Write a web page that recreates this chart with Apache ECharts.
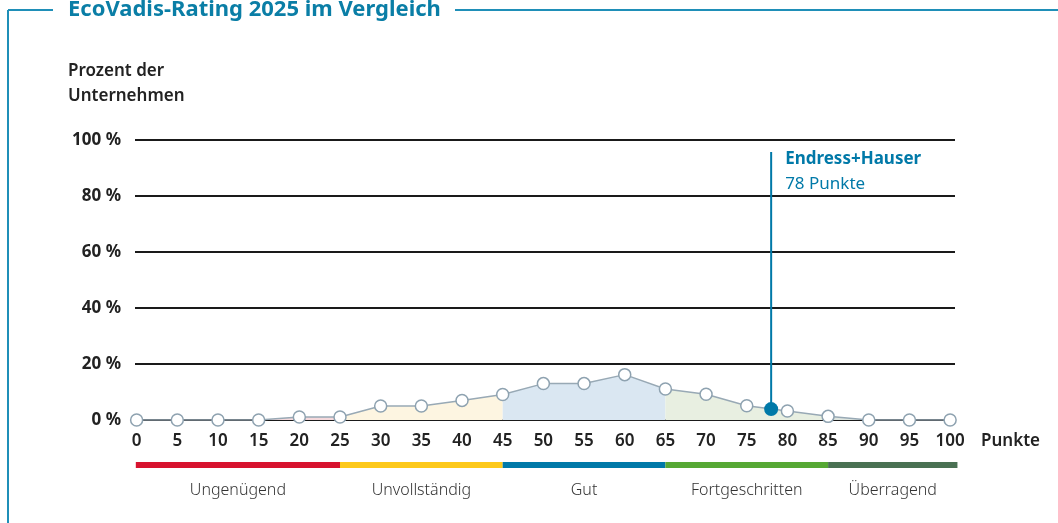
<!DOCTYPE html>
<html>
<head>
<meta charset="UTF-8">
<title>EcoVadis-Rating 2025 im Vergleich</title>
<script src="https://cdn.jsdelivr.net/npm/echarts@6/dist/echarts.min.js"></script>
<style>
  html, body { margin: 0; padding: 0; background: #fff; }
  #chart { width: 1058px; height: 523px; }
</style>
</head>
<body>
<div id="chart"></div>
<script>
// Punkte (x) und Anteil der Unternehmen in % (y)
var points = [0, 5, 10, 15, 20, 25, 30, 35, 40, 45, 50, 55, 60, 65, 70, 75, 80, 85, 90, 95, 100];
var share = [0, 0, 0, 0, 1.1, 1.1, 5, 5, 7, 9.1, 13, 13, 16.2, 11.1, 9.2, 5.1, 3.2, 1.3, 0, 0, 0];
var xTicks = [0, 5, 10, 15, 20, 25, 30, 35, 40, 45, 50, 55, 60, 65, 70, 75, 80, 85, 90, 95, 100];

// Bewertungsstufen
var bandNames = ['Ungenügend', 'Unvollständig', 'Gut', 'Fortgeschritten', 'Überragend'];
var bandStart = [-0.1, 25, 45, 65, 85];
var bandEnd = [25, 45, 65, 85, 100.9];
var bandColors = ['#d7132f', '#fdc91b', '#0079a8', '#56a834', '#4a7153'];
var bandFill = ['#f5d9dc', '#fdf5e1', '#dae7f2', '#e8efe1', '#dfe6e0'];

// Endress+Hauser
var companyName = 'Endress+Hauser';
var companyScore = 78;
var companyShare = 3.9;
var markerTop = 95.7;

var FONT = '"Noto Sans", sans-serif';
var BLUE = '#0079a8';

var myChart = echarts.init(document.getElementById('chart'));

// Flächen je Bewertungsstufe
var areaSeries = bandNames.map(function (name, k) {
  var d = [];
  points.forEach(function (p, i) {
    if (p >= bandStart[k] && p <= bandEnd[k]) d.push([p, share[i]]);
  });
  return {
    name: name,
    type: 'line',
    data: d,
    showSymbol: false,
    silent: true,
    lineStyle: { width: 0 },
    areaStyle: { color: bandFill[k], opacity: 1 },
    z: 1
  };
});

var option = {
  animation: false,
  title: [{
    text: 'EcoVadis-Rating 2025 im Vergleich',
    left: 63,
    top: -6,
    textStyle: { color: '#0a7ea6', fontSize: 22, fontWeight: 'bold', fontFamily: FONT }
  }, {
    text: 'Prozent der\nUnternehmen',
    left: 63,
    top: 54,
    textStyle: { color: '#222', fontSize: 17, fontWeight: 600, lineHeight: 25, fontFamily: FONT }
  }],
  graphic: [
    { type: 'line', shape: { x1: 8, y1: 10, x2: 53, y2: 10 }, style: { stroke: '#1f8fb8', lineWidth: 2 } },
    { type: 'line', shape: { x1: 455, y1: 10, x2: 1058, y2: 10 }, style: { stroke: '#1f8fb8', lineWidth: 2 } },
    { type: 'line', shape: { x1: 8, y1: 10, x2: 8, y2: 523 }, style: { stroke: '#1f8fb8', lineWidth: 2 } }
  ],
  grid: [
    { left: 135, right: 103, top: 140, bottom: 103 },
    { left: 135, right: 103, top: 462, height: 6 }
  ],
  xAxis: [{
    type: 'value',
    gridIndex: 0,
    min: -0.2,
    max: 100.6,
    name: 'Punkte',
    nameLocation: 'end',
    nameGap: 26,
    nameTextStyle: { color: '#222', fontSize: 17, fontWeight: 600, fontFamily: FONT, verticalAlign: 'top', padding: [13, 0, 0, 0] },
    axisLine: { show: true, onZero: false, lineStyle: { color: '#1a1a1a', width: 2 } },
    axisTick: { show: false },
    splitLine: { show: false },
    axisLabel: {
      customValues: xTicks,
      margin: 13,
      color: '#222',
      fontSize: 17,
      fontWeight: 600,
      fontFamily: FONT
    }
  }, {
    type: 'value',
    gridIndex: 1,
    min: -0.2,
    max: 100.6,
    show: false
  }],
  yAxis: [{
    type: 'value',
    gridIndex: 0,
    min: 0,
    max: 100,
    interval: 20,
    axisLine: { show: false },
    axisTick: { show: false },
    splitLine: { lineStyle: { color: '#1a1a1a', width: 2 } },
    axisLabel: {
      formatter: '{value} %',
      margin: 14,
      color: '#222',
      fontSize: 17,
      fontWeight: 'bold',
      fontFamily: FONT
    }
  }, {
    type: 'value',
    gridIndex: 1,
    min: 0,
    max: 1,
    show: false
  }],
  series: areaSeries.concat([{
    name: 'Verteilung',
    type: 'line',
    data: points.map(function (p, i) { return [p, share[i]]; }),
    symbol: 'circle',
    symbolSize: 12,
    lineStyle: { color: '#98a9b5', width: 1.5 },
    itemStyle: { color: '#ffffff', borderColor: '#8ea2b0', borderWidth: 1.5 },
    z: 3
  }, {
    name: 'Markierung',
    type: 'line',
    data: [[companyScore, companyShare], [companyScore, markerTop]],
    showSymbol: false,
    silent: true,
    lineStyle: { color: BLUE, width: 2 },
    z: 4
  }, {
    name: companyName,
    type: 'scatter',
    data: [[companyScore, companyShare]],
    symbolSize: 14,
    itemStyle: { color: BLUE, opacity: 1 },
    z: 5
  }, {
    name: 'Beschriftung',
    type: 'scatter',
    data: [[companyScore, markerTop]],
    symbolSize: 0,
    itemStyle: { color: BLUE, opacity: 1 },
    label: {
      show: true,
      position: [14, -5],
      align: 'left',
      verticalAlign: 'top',
      formatter: '{b|' + companyName + '}\n{n|' + companyScore + ' Punkte}',
      rich: {
        b: { color: BLUE, fontSize: 17, fontWeight: 'bold', lineHeight: 25, fontFamily: FONT },
        n: { color: BLUE, fontSize: 17, lineHeight: 25, fontFamily: FONT }
      }
    },
    z: 5
  }, {
    name: 'Stufen',
    type: 'custom',
    xAxisIndex: 1,
    yAxisIndex: 1,
    silent: true,
    data: bandNames.map(function (n, k) { return [bandStart[k], bandEnd[k], k]; }),
    renderItem: function (params, api) {
      var k = api.value(2);
      var s = api.coord([api.value(0), 1]);
      var e = api.coord([api.value(1), 0]);
      return {
        type: 'group',
        children: [{
          type: 'rect',
          shape: { x: s[0], y: s[1], width: e[0] - s[0], height: e[1] - s[1] },
          style: { fill: bandColors[k] }
        }, {
          type: 'text',
          style: {
            text: bandNames[k],
            x: (s[0] + e[0]) / 2,
            y: e[1] + 22,
            align: 'center',
            verticalAlign: 'middle',
            fill: '#333',
            font: '300 16px ' + FONT
          }
        }]
      };
    }
  }])
};

myChart.setOption(option);
</script>
</body>
</html>
